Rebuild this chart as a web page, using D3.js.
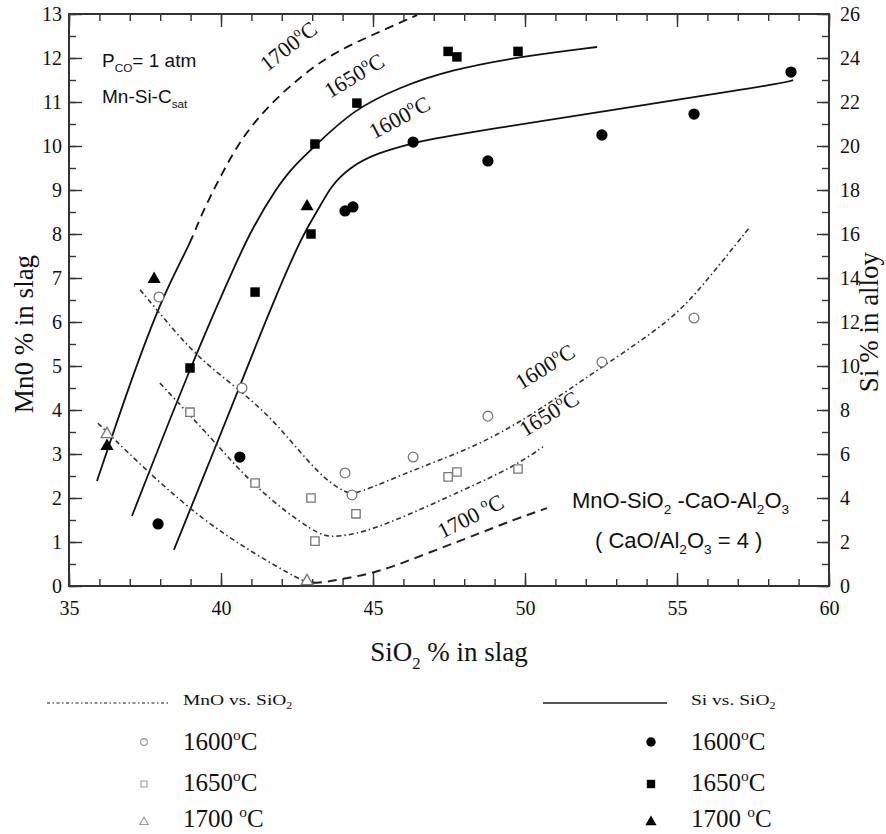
<!DOCTYPE html>
<html>
<head>
<meta charset="utf-8">
<script src="https://cdn.jsdelivr.net/npm/d3@7/dist/d3.min.js"></script>
<style>
  html, body { margin: 0; padding: 0; background: #fff; }
  svg { display: block; }
  .serif { font-family: "Liberation Serif", "DejaVu Serif", serif; fill: #111; }
  .sans { font-family: "Liberation Sans", Arial, sans-serif; fill: #111; }
</style>
</head>
<body>
<svg id="chart" width="886" height="834"></svg>
<script>
// ---- Axis ticks ----
const sio2Ticks = [35, 40, 45, 50, 55, 60];
const mnoTicks = [0, 1, 2, 3, 4, 5, 6, 7, 8, 9, 10, 11, 12, 13];
const siTicks = [0, 2, 4, 6, 8, 10, 12, 14, 16, 18, 20, 22, 24, 26];

// ---- Measured Si in alloy (filled markers), [SiO2 %, Si %] ----
const siPts1600 = [[37.93, 2.82], [40.62, 5.86], [44.08, 17.05], [44.34, 17.23], [46.32, 20.18],
                   [48.78, 19.32], [52.53, 20.5], [55.56, 21.45], [58.75, 23.36]];
const siPts1650 = [[38.98, 9.91], [41.12, 13.36], [42.96, 16.0], [43.09, 20.09], [44.47, 21.95],
                   [47.47, 24.3], [47.76, 24.05], [49.77, 24.3]];
const siPts1700 = [[36.25, 6.36], [37.8, 13.95], [42.83, 17.25]];

// ---- Measured MnO in slag (open markers), [SiO2 %, MnO %] ----
const mnoPts1600 = [[37.96, 6.57], [40.69, 4.5], [44.08, 2.57], [44.31, 2.07], [46.32, 2.93],
                    [48.78, 3.86], [52.53, 5.09], [55.56, 6.09]];
const mnoPts1650 = [[38.98, 3.95], [41.12, 2.34], [42.96, 2.0], [43.09, 1.02], [44.44, 1.64],
                    [47.47, 2.48], [47.76, 2.59], [49.77, 2.66]];
const mnoPts1700 = [[36.25, 3.45], [42.83, 0.11]];

// ---- Fitted Si curves, [SiO2 %, Si %] ----
const siFit1600 = [[38.45, 1.64], [39.87, 6.5], [40.53, 8.77], [41.61, 12.55], [42.7, 16.05],
                   [43.26, 17.23], [43.59, 18.14], [44.24, 19.05], [45.13, 19.68], [46.32, 20.14],
                   [47.53, 20.5], [58.62, 22.86], [58.82, 23.0]];
const siFit1650 = [[37.07, 3.18], [38.98, 9.91], [40.2, 13.77], [40.95, 16.09], [41.84, 18.14],
                   [42.4, 19.1], [43.09, 20.0], [44.34, 21.64], [45.89, 22.68], [47.53, 23.45],
                   [49.77, 24.05], [52.37, 24.5]];
// 1700 °C Si fit: solid up to the last measured point region, dashed beyond
const siFit1700 = [[35.92, 4.77], [37.0, 9.2], [38.06, 13.14], [39.05, 15.73], [39.31, 16.77],
                   [39.97, 18.59], [40.63, 20.27], [41.51, 21.77], [42.6, 23.14], [43.68, 24.23],
                   [45.13, 25.14], [46.45, 25.95]];
const siSplit1700 = 39.05;

// ---- Fitted MnO curves, [SiO2 %, MnO %] ----
const mnoFit1600 = [[37.34, 6.73], [38.09, 6.11], [39.21, 5.2], [40.63, 4.45], [41.84, 3.7],
                    [43.26, 2.48], [44.14, 2.11], [44.4, 2.07], [46.32, 2.64], [48.52, 3.2],
                    [50.49, 4.0], [52.37, 4.91], [54.87, 6.05], [55.99, 6.95], [57.4, 8.16]];
const mnoFit1650 = [[37.99, 4.61], [39.74, 3.32], [41.18, 2.18], [43.16, 1.16], [43.68, 1.11],
                    [44.67, 1.2], [46.32, 1.66], [47.96, 2.18], [49.61, 2.7], [50.59, 3.16]];
// 1700 °C MnO fit: dash-dot below the 0 % MnO point, dashed beyond
const mnoFit1700 = [[35.95, 3.7], [37.76, 2.48], [39.41, 1.5], [41.05, 0.75], [42.6, 0.14],
                    [43.03, 0.03], [44.14, 0.18], [45.23, 0.32], [46.88, 0.77], [48.52, 1.2],
                    [49.61, 1.5], [50.72, 1.77]];
const mnoSplit1700 = 42.95;

// ---- Layout ----
const svg = d3.select("#chart");
const plot = { left: 69, right: 829, top: 14, bottom: 586 };

const x = d3.scaleLinear().domain([35, 60]).range([plot.left, plot.right]);
const yMnO = d3.scaleLinear().domain([0, 13]).range([plot.bottom, plot.top]);
const ySi = d3.scaleLinear().domain([0, 26]).range([plot.bottom, plot.top]);

const axisColor = "#333";

// rich text helper: parts with optional sup/sub
function rich(sel, parts, size) {
  let shift = 0;
  parts.forEach(p => {
    const target = p.sup ? -0.42 * size : p.sub ? 0.28 * size : 0;
    const small = p.sup || p.sub;
    sel.append("tspan")
      .attr("dy", target - shift)
      .style("font-size", (small ? 0.62 * size : size) + "px")
      .text(p.t);
    shift = target;
  });
}

function styleAxis(g) {
  g.select(".domain").remove();
  g.selectAll(".tick line").attr("stroke", axisColor).attr("stroke-width", 1.4);
  g.selectAll(".tick text").attr("class", "serif").style("font-size", "20px").attr("fill", "#222");
}

// Minor ticks
svg.append("g").attr("transform", `translate(0,${plot.bottom})`)
  .call(d3.axisBottom(x).tickValues(d3.range(35, 61, 1)).tickFormat("").tickSizeInner(-7).tickSizeOuter(0))
  .call(styleAxis);
svg.append("g").attr("transform", `translate(0,${plot.top})`)
  .call(d3.axisTop(x).tickValues(d3.range(35, 61, 1)).tickFormat("").tickSizeInner(-7).tickSizeOuter(0))
  .call(styleAxis);
svg.append("g").attr("transform", `translate(${plot.left},0)`)
  .call(d3.axisLeft(yMnO).tickValues(d3.range(0, 13.01, 0.5)).tickFormat("").tickSizeInner(-7).tickSizeOuter(0))
  .call(styleAxis);
svg.append("g").attr("transform", `translate(${plot.right},0)`)
  .call(d3.axisRight(ySi).tickValues(d3.range(0, 27, 1)).tickFormat("").tickSizeInner(-7).tickSizeOuter(0))
  .call(styleAxis);

// Major ticks with labels
svg.append("g").attr("transform", `translate(0,${plot.bottom})`)
  .call(d3.axisBottom(x).tickValues(sio2Ticks).tickFormat(d3.format("d")).tickSizeInner(-13).tickSizeOuter(0).tickPadding(15))
  .call(styleAxis);
svg.append("g").attr("transform", `translate(0,${plot.top})`)
  .call(d3.axisTop(x).tickValues(sio2Ticks).tickFormat("").tickSizeInner(-13).tickSizeOuter(0))
  .call(styleAxis);
svg.append("g").attr("transform", `translate(${plot.left},0)`)
  .call(d3.axisLeft(yMnO).tickValues(mnoTicks).tickFormat(d3.format("d")).tickSizeInner(-13).tickSizeOuter(0).tickPadding(7))
  .call(styleAxis);
svg.append("g").attr("transform", `translate(${plot.right},0)`)
  .call(d3.axisRight(ySi).tickValues(siTicks).tickFormat(d3.format("d")).tickSizeInner(-12).tickSizeOuter(0).tickPadding(11))
  .call(styleAxis);

// Frame
svg.append("rect")
  .attr("x", plot.left).attr("y", plot.top)
  .attr("width", plot.right - plot.left).attr("height", plot.bottom - plot.top)
  .attr("fill", "none").attr("stroke", axisColor).attr("stroke-width", 2);

// ---- Clip regions ----
const defs = svg.append("defs");
function addClip(id, x0, x1) {
  defs.append("clipPath").attr("id", id).append("rect")
    .attr("x", x0).attr("y", plot.top).attr("width", x1 - x0).attr("height", plot.bottom - plot.top);
}
addClip("plotClip", plot.left, plot.right);
addClip("siLeft", plot.left, x(siSplit1700));
addClip("siRight", x(siSplit1700), plot.right);
addClip("mnoLeft", plot.left, x(mnoSplit1700));
addClip("mnoRight", x(mnoSplit1700) + 2, plot.right);

// ---- Curves ----
const curves = svg.append("g");
const siLine = d3.line().x(d => x(d[0])).y(d => ySi(d[1])).curve(d3.curveBasis);
const mnoLine = d3.line().x(d => x(d[0])).y(d => yMnO(d[1])).curve(d3.curveBasis);

const dashDot = "5,3,1.5,3";
const dashed = "9,6";

function drawPath(d, clipId, stroke, width, dash) {
  const p = curves.append("path").attr("d", d)
    .attr("clip-path", `url(#${clipId})`)
    .attr("fill", "none").attr("stroke", stroke).attr("stroke-width", width);
  if (dash) p.attr("stroke-dasharray", dash);
}

drawPath(siLine(siFit1600), "plotClip", "#111", 1.8);
drawPath(siLine(siFit1650), "plotClip", "#111", 1.8);
drawPath(siLine(siFit1700), "siLeft", "#111", 1.8);
drawPath(siLine(siFit1700), "siRight", "#111", 1.8, dashed);

drawPath(mnoLine(mnoFit1600), "plotClip", "#333", 1.6, dashDot);
drawPath(mnoLine(mnoFit1650), "plotClip", "#333", 1.6, dashDot);
drawPath(mnoLine(mnoFit1700), "mnoLeft", "#333", 1.6, dashDot);
drawPath(mnoLine(mnoFit1700), "mnoRight", "#222", 2, dashed);

// ---- Markers ----
const sym = {
  circle: d3.symbol().type(d3.symbolCircle),
  square: d3.symbol().type(d3.symbolSquare),
  triangle: d3.symbol().type(d3.symbolTriangle)
};
const marks = svg.append("g");

function openMarks(data, shape, size) {
  marks.selectAll(null).data(data).enter().append("path")
    .attr("d", sym[shape].size(size)())
    .attr("transform", d => `translate(${x(d[0])},${yMnO(d[1])})`)
    .attr("fill", "#fff").attr("stroke", "#777").attr("stroke-width", 1.3);
}
function filledMarks(data, shape, size) {
  marks.selectAll(null).data(data).enter().append("path")
    .attr("d", sym[shape].size(size)())
    .attr("transform", d => `translate(${x(d[0])},${ySi(d[1])})`)
    .attr("fill", "#000");
}
openMarks(mnoPts1600, "circle", 75);
openMarks(mnoPts1650, "square", 70);
openMarks(mnoPts1700, "triangle", 60);
filledMarks(siPts1600, "circle", 100);
filledMarks(siPts1650, "square", 90);
filledMarks(siPts1700, "triangle", 75);

// ---- Curve labels ----
const curveLabels = [
  { cx: 293, cy: 52, a: -38, t: "1700" },
  { cx: 358, cy: 82, a: -31, t: "1650" },
  { cx: 403, cy: 124, a: -28, t: "1600" },
  { cx: 549, cy: 373, a: -32, t: "1600" },
  { cx: 553, cy: 420, a: -32, t: "1650" },
  { cx: 474, cy: 523, a: -27, t: "1700 " }
];
curveLabels.forEach(l => {
  const t = svg.append("text").attr("class", "serif")
    .attr("text-anchor", "middle")
    .attr("transform", `translate(${l.cx},${l.cy}) rotate(${l.a})`)
    .attr("dy", "0.35em");
  rich(t, [{ t: l.t }, { t: "o", sup: true }, { t: "C" }], 22);
});

// ---- Annotations ----
const pco = svg.append("text").attr("class", "sans").attr("x", 102).attr("y", 67);
rich(pco, [{ t: "P" }, { t: "CO", sub: true }, { t: "= 1 atm" }], 19);
const mnsic = svg.append("text").attr("class", "sans").attr("x", 102).attr("y", 103);
rich(mnsic, [{ t: "Mn-Si-C" }, { t: "sat", sub: true }], 19);

const sys1 = svg.append("text").attr("class", "sans").attr("x", 572).attr("y", 508);
rich(sys1, [{ t: "MnO-SiO" }, { t: "2", sub: true }, { t: " -CaO-Al" }, { t: "2", sub: true }, { t: "O" }, { t: "3", sub: true }], 22);
const sys2 = svg.append("text").attr("class", "sans").attr("x", 595).attr("y", 548);
rich(sys2, [{ t: "( CaO/Al" }, { t: "2", sub: true }, { t: "O" }, { t: "3", sub: true }, { t: "  = 4 )" }], 22);

// ---- Axis titles ----
const xTitle = svg.append("text").attr("class", "serif").attr("text-anchor", "middle")
  .attr("x", 449).attr("y", 661);
rich(xTitle, [{ t: "SiO" }, { t: "2", sub: true }, { t: " % in slag" }], 27);

svg.append("text").attr("class", "serif").attr("text-anchor", "middle")
  .attr("transform", "translate(33,334) rotate(-90)")
  .style("font-size", "27px").text("Mn0 % in slag");

svg.append("text").attr("class", "serif").attr("text-anchor", "middle")
  .attr("transform", "translate(878,322) rotate(-90)")
  .style("font-size", "27px").text("Si % in alloy");

// ---- Legend ----
const legend = svg.append("g");
legend.append("line").attr("x1", 47).attr("x2", 170).attr("y1", 703).attr("y2", 703)
  .attr("stroke", "#666").attr("stroke-width", 1.6).attr("stroke-dasharray", "3,2.5,1.5,2.5");
const lh1 = legend.append("text").attr("class", "serif")
  .attr("transform", "translate(183,705) scale(1.3,1)");
rich(lh1, [{ t: "MnO vs. SiO" }, { t: "2", sub: true }], 15);

legend.append("line").attr("x1", 543).attr("x2", 667).attr("y1", 703).attr("y2", 703)
  .attr("stroke", "#555").attr("stroke-width", 2.2);
const lh2 = legend.append("text").attr("class", "serif")
  .attr("transform", "translate(691,705) scale(1.3,1)");
rich(lh2, [{ t: "Si vs. SiO" }, { t: "2", sub: true }], 15);

const legendRows = [
  { y: 742, base: 750, label: "1600", shape: "circle" },
  { y: 784, base: 791, label: "1650", shape: "square" },
  { y: 822, base: 827, label: "1700 ", shape: "triangle" }
];
legendRows.forEach(r => {
  legend.append("path").attr("d", sym[r.shape].size(r.shape === "triangle" ? 32 : 36)())
    .attr("transform", `translate(144,${r.y})`)
    .attr("fill", "#fff").attr("stroke", "#999").attr("stroke-width", 1.1);
  const tl = legend.append("text").attr("class", "serif").attr("x", 183).attr("y", r.base);
  rich(tl, [{ t: r.label }, { t: "o", sup: true }, { t: "C" }], 25);

  legend.append("path").attr("d", sym[r.shape].size(r.shape === "triangle" ? 55 : 70)())
    .attr("transform", `translate(651,${r.y})`)
    .attr("fill", "#000");
  const tr = legend.append("text").attr("class", "serif").attr("x", 691).attr("y", r.base);
  rich(tr, [{ t: r.label }, { t: "o", sup: true }, { t: "C" }], 25);
});
</script>
</body>
</html>
